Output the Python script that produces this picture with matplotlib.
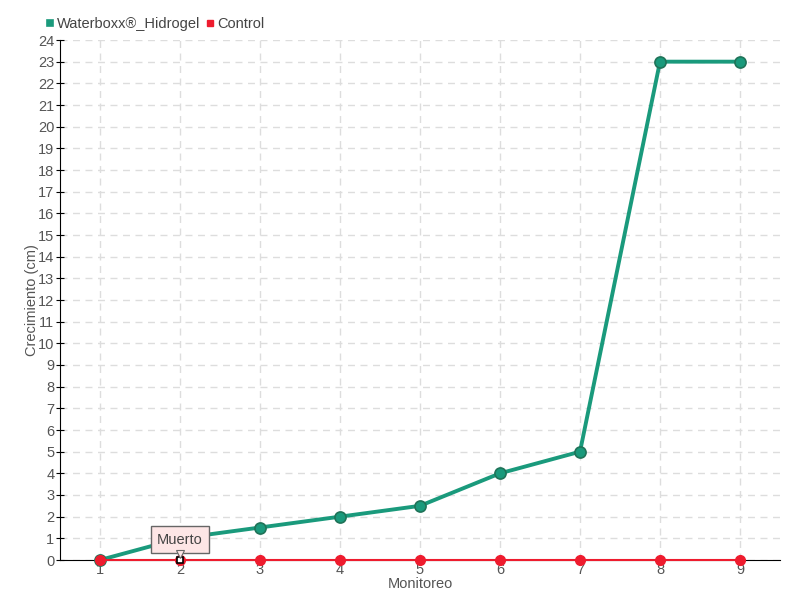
import matplotlib
matplotlib.use("Agg")
import matplotlib.pyplot as plt
from matplotlib.transforms import offset_copy

plt.rcParams['font.family'] = ['Liberation Sans', 'DejaVu Sans']

monitoreo = [1, 2, 3, 4, 5, 6, 7, 8, 9]
waterboxx = [0, 1, 1.5, 2, 2.5, 4, 5, 23, 23]
control = [0, 0, 0, 0, 0, 0, 0, 0, 0]
y_ticks = list(range(0, 25))
annot_label = "Muerto"
annot_x = 2

green = '#1a9a7c'
green_edge = '#1f7358'
red = '#ee1c2e'

fig = plt.figure(figsize=(8, 6), dpi=100)
ax = fig.add_axes([60/800, 40/600, 720/800, 520/600])

ax.plot(monitoreo, waterboxx, color=green, lw=2.8, marker='o', ms=8,
        mfc=green, mec=green_edge, mew=1.2, zorder=3, label='Waterboxx®_Hidrogel', clip_on=False)
ax.plot(monitoreo, control, color=red, lw=1.5, marker='o', ms=7,
        mfc=red, mec=red, zorder=4, label='Control', clip_on=False)
ax.plot([annot_x], [control[annot_x - 1]], marker='s', ms=5, mfc='white', mec='black',
        mew=1.2, zorder=6, clip_on=False)

ax.set_xlim(0.5, 9.5)
ax.set_ylim(0, 24)
ax.set_xticks(monitoreo)
ax.set_yticks(y_ticks)
ax.grid(True, color='#dddddd', ls=(0, (5, 4)), lw=1)
ax.set_axisbelow(True)
for s in ['top', 'right']:
    ax.spines[s].set_visible(False)
ax.spines['left'].set_color('black')
ax.spines['bottom'].set_color('black')
ax.tick_params(axis='y', direction='inout', length=6, color='black', labelsize=10.5, labelcolor='#555555', pad=1)
ax.tick_params(axis='x', length=0, labelsize=10.5, labelcolor='#555555', pad=2)
ax.set_xlabel('Monitoreo', fontsize=10.5, color='#555555', labelpad=0)
ax.set_ylabel('Crecimiento (cm)', fontsize=10.5, color='#555555', labelpad=-1)

ax.annotate(annot_label, xy=(annot_x, control[annot_x - 1]), xytext=(0, 14.5),
            textcoords='offset points', ha='center', va='center', fontsize=10.5, color='#444444',
            bbox=dict(boxstyle='square,pad=0.45', fc='#fde6e6', ec='#666666', lw=1), zorder=7)
tri_tr = offset_copy(ax.transData, fig=fig, x=0, y=6, units='dots')
ax.plot([annot_x], [control[annot_x - 1]], marker='v', ms=6, mfc='#fde6e6', mec='#666666',
        mew=0.8, transform=tri_tr, zorder=8, clip_on=False)

leg = ax.legend(loc='lower left', bbox_to_anchor=(-0.03, 1.0), ncol=2, frameon=False,
                fontsize=10.5, handlelength=0.4, handletextpad=0.25, columnspacing=0.5, borderaxespad=0.2)
for h, c in zip(leg.legend_handles, [green, red]):
    h.set_linestyle('')
    h.set_marker('s')
    h.set_markersize(5)
    h.set_markerfacecolor(c)
    h.set_markeredgecolor(c)
for t in leg.get_texts():
    t.set_color('#444444')

fig.savefig('out.png', dpi=100)
